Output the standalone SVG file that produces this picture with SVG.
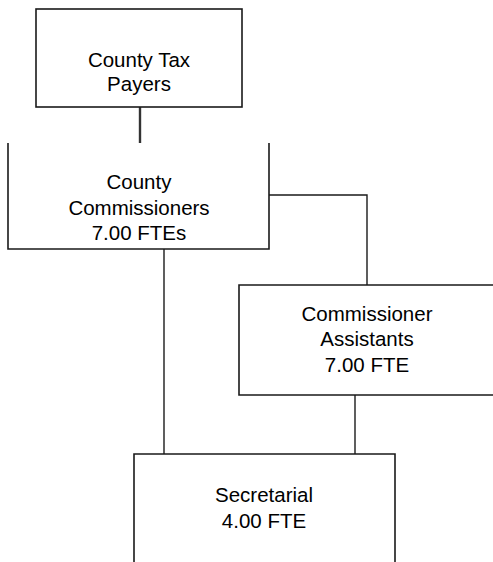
<svg xmlns="http://www.w3.org/2000/svg" width="493" height="562" viewBox="0 0 493 562">
<style>
.box{fill:none;stroke:#1a1a1a;stroke-width:1.6}
.con{fill:none;stroke:#1a1a1a;stroke-width:1.4}
text{font-family:"Liberation Sans",Arial,sans-serif;font-size:20.5px;fill:#000;text-anchor:middle}
</style>
<rect width="493" height="562" fill="#fff"/>
<g id="connectors">
<line class="con" x1="140" y1="107" x2="140" y2="143" style="stroke-width:2.4;stroke:#333"/>
<polyline class="con" points="269,195 367,195 367,285"/>
<line class="con" x1="164" y1="249" x2="164" y2="454"/>
<line class="con" x1="355" y1="395" x2="355" y2="454"/>
</g>
<g id="taxpayers">
<rect class="box" x="36" y="9" width="206" height="98"/>
<text x="139" y="67">County Tax</text>
<text x="139" y="91">Payers</text>
</g>
<g id="commissioners">
<polyline class="box" points="8,143 8,249 269,249 269,143"/>
<text x="139" y="189">County</text>
<text x="139" y="215">Commissioners</text>
<text x="139" y="240">7.00 FTEs</text>
</g>
<g id="assistants">
<polyline class="box" points="500,285 239,285 239,395 500,395"/>
<text x="367" y="321">Commissioner</text>
<text x="367" y="346">Assistants</text>
<text x="367" y="372">7.00 FTE</text>
</g>
<g id="secretarial">
<polyline class="box" points="134,570 134,454 395,454 395,570"/>
<text x="264" y="502">Secretarial</text>
<text x="264" y="528">4.00 FTE</text>
</g>
</svg>
